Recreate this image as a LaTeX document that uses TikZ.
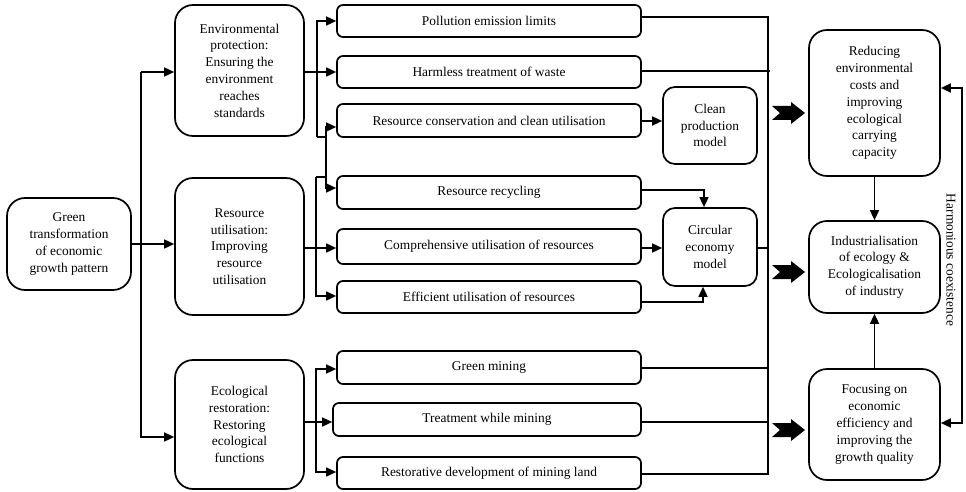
\documentclass[tikz,border=0pt]{standalone}
\usepackage{fontspec}
\setmainfont{Liberation Serif}
\usetikzlibrary{arrows.meta}
\tikzset{
  box/.style={draw, line width=1.7pt, rounded corners=18pt, align=center, inner sep=2pt,
    font=\fontsize{13.4}{16.8}\selectfont},
  mbox/.style={box, rounded corners=12pt},
  sbox/.style={draw, line width=1.7pt, rounded corners=6pt, inner sep=2pt,
    font=\fontsize{13.4}{15}\selectfont},
  ln/.style={line width=1.6pt},
  arr/.style={ln, -{Triangle[length=10pt,width=9pt]}},
  fat/.style={fill=black},
}
\begin{document}
\begin{tikzpicture}[x=1pt,y=-1pt]
\useasboundingbox (0,0) rectangle (966,492);

% main boxes
\node[box, minimum width=124pt, minimum height=92pt] (green) at (69,244)
  {Green\\transformation\\of economic\\growth pattern};
\node[box, minimum width=129pt, minimum height=131pt] (env) at (239.5,70.5)
  {Environmental\\protection:\\Ensuring the\\environment\\reaches\\standards};
\node[box, minimum width=129pt, minimum height=137pt] (res) at (239.5,246.5)
  {Resource\\utilisation:\\Improving\\resource\\utilisation};
\node[box, minimum width=129pt, minimum height=129pt] (eco) at (239.5,424.5)
  {Ecological\\restoration:\\Restoring\\ecological\\functions};

% small boxes
\node[sbox, minimum width=304pt, minimum height=32pt] (poll) at (489,21) {Pollution emission limits};
\node[sbox, minimum width=304pt, minimum height=32pt] (harm) at (489,72) {Harmless treatment of waste};
\node[sbox, minimum width=304pt, minimum height=33pt] (cons) at (489,120.5) {Resource conservation and clean utilisation};
\node[sbox, minimum width=304pt, minimum height=33pt] (recy) at (489,192.5) {Resource recycling};
\node[sbox, minimum width=304pt, minimum height=35pt] (comp) at (489,246.5) {Comprehensive utilisation of resources};
\node[sbox, minimum width=304pt, minimum height=32pt] (effi) at (489,297) {Efficient utilisation of resources};
\node[sbox, minimum width=304pt, minimum height=33pt] (gmin) at (489,367.5) {Green mining};
\node[sbox, minimum width=308pt, minimum height=33pt] (treat) at (487,419.5) {Treatment while mining};
\node[sbox, minimum width=304pt, minimum height=32pt] (rest) at (489,473) {Restorative development of mining land};

% models
\node[mbox, minimum width=94pt, minimum height=77pt] (clean) at (710,125.5) {Clean\\production\\model};
\node[mbox, minimum width=94pt, minimum height=78pt] (circ) at (710,247) {Circular\\economy\\model};

% right boxes
\node[box, minimum width=131pt, minimum height=146pt] (rtop) at (874.5,103)
  {Reducing\\environmental\\costs and\\improving\\ecological\\carrying\\capacity};
\node[box, minimum width=131pt, minimum height=92pt] (rmid) at (874.5,267)
  {Industrialisation\\of ecology \&\\Ecologicalisation\\of industry};
\node[box, minimum width=131pt, minimum height=111pt] (rbot) at (874.5,424.5)
  {Focusing on\\economic\\efficiency and\\improving the\\growth quality};

% trunk from green box
\coordinate (t1) at (141,72);
\coordinate (t2) at (141,437);
\draw[arr] (green.east) -- (res.west |- green.east);
\draw[arr] (t1) -- (env.west |- t1);
\draw[arr] (t1) -- (t2) -- (eco.west |- t2);

% environmental branch
\coordinate (e0) at (317,72);
\coordinate (e1) at (317,21);
\coordinate (e2) at (317,137);
\coordinate (e3) at (326,137);
\draw[ln] (env.east |- e0) -- (e0);
\draw[arr] (e0) -- (harm.west |- e0);
\draw[arr] (e2) -- (e1) -- (poll.west |- e1);
\draw[ln] (e2) -- (e3);
\coordinate (j1) at (326,127);
\coordinate (j2) at (326,188);
\draw[arr] (j2) -- (j1) -- (cons.west |- j1);
\draw[arr] (j1) -- (j2) -- (recy.west |- j2);

% resource branch
\coordinate (r0) at (316,248);
\coordinate (r1) at (316,177);
\coordinate (r2) at (316,296);
\draw[arr] (res.east |- r0) -- (comp.west |- r0);
\draw[ln] (r1) -- (326,177);
\draw[arr] (r1) -- (r2) -- (effi.west |- r2);

% ecological branch
\coordinate (g0) at (316,422);
\coordinate (g1) at (316,369);
\coordinate (g2) at (316,472);
\draw[arr] (eco.east |- g0) -- (treat.west |- g0);
\draw[arr] (g2) -- (g1) -- (gmin.west |- g1);
\draw[arr] (g1) -- (g2) -- (rest.west |- g2);

% to models
\draw[arr] (cons.east |- 0,121) -- (clean.west |- 0,121);
\coordinate (c1) at (704,190);
\draw[arr] (recy.east |- c1) -- (c1) -- (circ.north -| c1);
\draw[arr] (comp.east |- 0,248) -- (circ.west |- 0,248);
\coordinate (c2) at (703,302);
\draw[arr] (effi.east |- c2) -- (c2) -- (circ.south -| c2);

% collector
\coordinate (k1) at (768,17);
\coordinate (k2) at (768,474);
\draw[ln] (poll.east |- k1) -- (k1) -- (k2) -- (rest.east |- k2);
\draw[ln] (harm.east |- 0,71) -- (770,71);
\draw[ln] (circ.east |- 0,248) -- (768,248);
\draw[ln] (gmin.east |- 0,368) -- (768,368);
\draw[ln] (treat.east |- 0,422) -- (768,422);

% fat arrows
\foreach \yy in {113,272,430}{
  \fill[fat] (772,\yy-7) -- (791,\yy-7) -- (791,\yy-11) -- (805,\yy) -- (791,\yy+11)
    -- (791,\yy+7) -- (772,\yy+7) -- (780,\yy) -- cycle;
}

% right side arrows
\draw[arr] (rtop.south) -- (rmid.north);
\draw[arr] (rbot.north) -- (rmid.south);
\coordinate (h1) at (962,88);
\coordinate (h2) at (962,423);
\draw[arr] (h2) -- (h1) -- (rtop.east |- h1);
\draw[arr] (h1) -- (h2) -- (rbot.east |- h2);
\node[rotate=-90, font=\fontsize{13.4}{15}\selectfont, inner sep=0pt] (hc) at (951,260) {Harmonious coexistence};
\end{tikzpicture}
\end{document}
